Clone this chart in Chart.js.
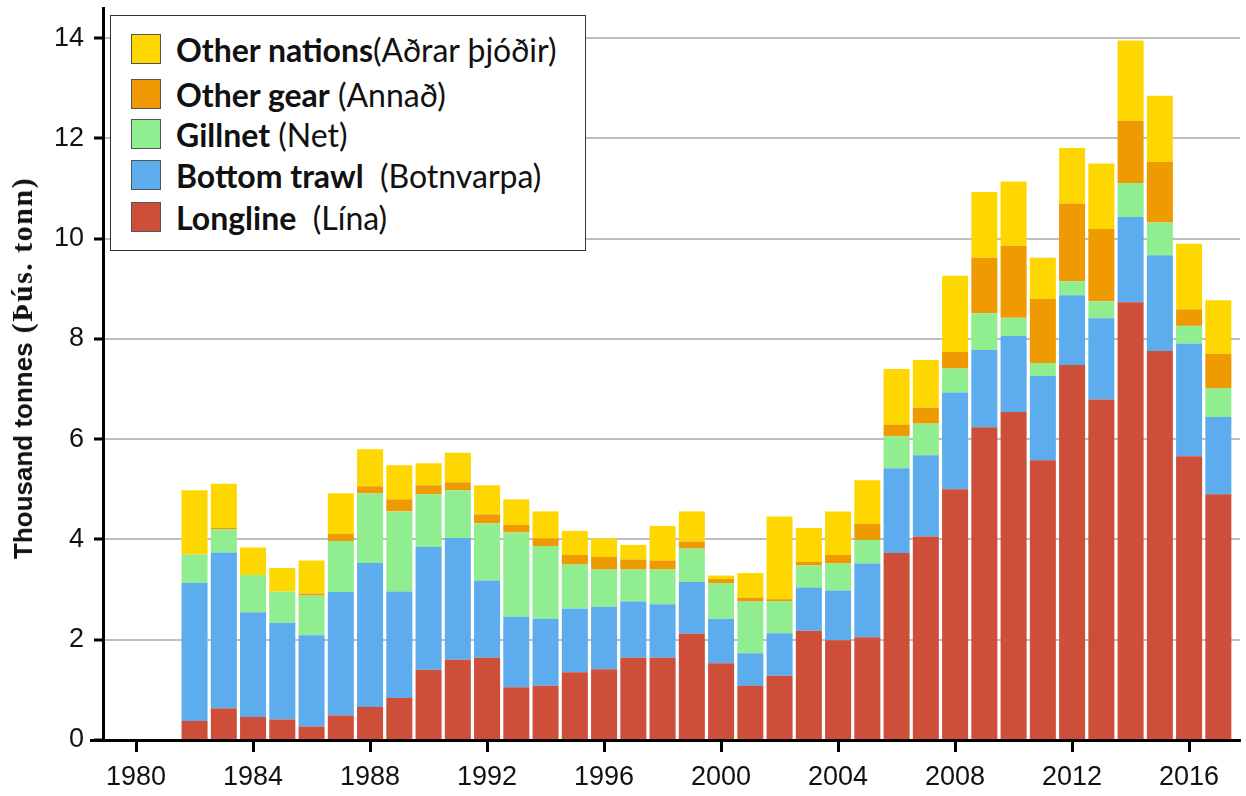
<!DOCTYPE html>
<html><head><meta charset="utf-8">
<script src="https://cdn.jsdelivr.net/npm/chart.js@4.4.1/dist/chart.umd.min.js"></script>
<style>
html,body{margin:0;padding:0;background:#fff;}
#wrap{position:relative;width:1246px;height:796px;overflow:hidden;}
#c{position:absolute;left:0;top:0;}
#legend{position:absolute;left:110px;top:15px;width:476px;height:236px;background:#fff;border:1.5px solid #333;box-sizing:border-box;font-family:Lato,'Open Sans',sans-serif;font-size:32px;color:#111;}
.row{position:absolute;left:20px;height:36px;display:flex;align-items:center;white-space:pre;}
.sw{width:30px;height:30px;border:1px solid #555;box-sizing:border-box;margin-right:15px;flex:none;}
.b{font-weight:bold;}
#ytitle{position:absolute;left:22px;top:368px;transform:translate(-50%,-50%) rotate(-90deg);white-space:nowrap;color:#111;}
#ytitle .s{font-family:'Liberation Sans',Arial,sans-serif;font-weight:bold;font-size:26px;}
#ytitle .t{font-family:'Liberation Serif','Times New Roman',serif;font-weight:bold;font-size:30px;letter-spacing:1.5px;}
</style>
</head><body>
<div id="wrap">
<canvas id="c" width="1246" height="796"></canvas>
<div id="ytitle"><span class="s">Thousand tonnes</span><span class="t"> (Þús. tonn)</span></div>
<div id="legend"></div>
</div>
<script>
const years = [1982,1983,1984,1985,1986,1987,1988,1989,1990,1991,1992,1993,1994,1995,1996,1997,1998,1999,2000,2001,2002,2003,2004,2005,2006,2007,2008,2009,2010,2011,2012,2013,2014,2015,2016,2017];
const longline     = [0.38,0.63,0.46,0.41,0.27,0.49,0.66,0.84,1.40,1.60,1.64,1.05,1.08,1.35,1.41,1.64,1.64,2.12,1.53,1.08,1.28,2.18,1.99,2.05,3.73,4.06,5.00,6.24,6.54,5.58,7.48,6.79,8.73,7.76,5.66,4.90];
const bottomTrawl  = [2.75,3.11,2.09,1.93,1.82,2.46,2.87,2.12,2.45,2.43,1.54,1.41,1.34,1.27,1.25,1.12,1.07,1.03,0.89,0.65,0.85,0.86,0.99,1.47,1.69,1.62,1.93,1.54,1.52,1.68,1.39,1.62,1.70,1.91,2.25,1.54];
const gillnet      = [0.57,0.46,0.74,0.62,0.79,1.02,1.39,1.60,1.05,0.95,1.14,1.68,1.45,0.88,0.74,0.64,0.69,0.67,0.71,1.03,0.64,0.44,0.54,0.47,0.64,0.63,0.48,0.73,0.36,0.26,0.28,0.34,0.68,0.65,0.35,0.58];
const otherGear    = [0.00,0.03,0.00,0.00,0.04,0.14,0.14,0.24,0.18,0.16,0.18,0.15,0.15,0.19,0.25,0.20,0.18,0.14,0.08,0.08,0.04,0.07,0.17,0.32,0.23,0.32,0.33,1.11,1.44,1.28,1.55,1.44,1.24,1.21,0.33,0.68];
const otherNations = [1.28,0.88,0.55,0.47,0.66,0.81,0.74,0.68,0.44,0.59,0.58,0.51,0.54,0.48,0.37,0.29,0.69,0.60,0.07,0.49,1.65,0.68,0.87,0.87,1.11,0.95,1.52,1.31,1.28,0.82,1.11,1.31,1.60,1.32,1.31,1.07];
const xTickYears = [1980,1984,1988,1992,1996,2000,2004,2008,2012,2016];
const yTickValues = [0,2,4,6,8,10,12,14];
const seriesNames = ['Longline','Bottom trawl','Gillnet','Other gear','Other nations'];
const seriesLocal = ['\u00a0\u00a0(Lína)','\u00a0\u00a0(Botnvarpa)','\u00a0(Net)','\u00a0(Annað)','(Aðrar þjóðir)'];
const seriesColors = ['#CD4F39','#5CACEE','#90EE90','#EE9A00','#FFD700'];
const seriesValues = [longline,bottomTrawl,gillnet,otherGear,otherNations];

const tickFont = {family:"'Liberation Sans', Arial, sans-serif", size:27};

const datasets = seriesValues.map((vals,i)=>({
  label: seriesNames[i] + ' ' + seriesLocal[i].trim(),
  data: years.map((y,j)=>({x:y, y:vals[j]})),
  backgroundColor: seriesColors[i],
  borderWidth: 0,
  barPercentage: 0.89,
  categoryPercentage: 1.0
}));

// extends the x-axis line slightly left of the y-axis, as in the original
const axisExtend = {
  id: 'axisExtend',
  afterDraw(c) {
    const ctx = c.ctx, a = c.chartArea;
    ctx.save();
    ctx.strokeStyle = '#000';
    ctx.lineWidth = 3;
    ctx.beginPath();
    ctx.moveTo(a.left - 13, a.bottom + 0.5);
    ctx.lineTo(a.left, a.bottom + 0.5);
    ctx.stroke();
    ctx.restore();
  }
};

const chart = new Chart(document.getElementById('c'), {
  type: 'bar',
  data: {datasets},
  plugins: [axisExtend],
  options: {
    responsive: false,
    animation: false,
    devicePixelRatio: 1,
    layout: {padding:{top:8,right:6,left:0,bottom:0}},
    plugins: {legend:{display:false}, tooltip:{enabled:false}},
    scales: {
      x: {
        type: 'linear',
        stacked: true,
        offset: false,
        min: 1978.87,
        max: 2017.74,
        afterBuildTicks: s => { s.ticks = xTickYears.map(v=>({value:v})); },
        afterFit: s => { s.height = 56; s.paddingLeft = 0; s.paddingRight = 0; },
        ticks: {callback: v => String(v), font: tickFont, color:'#111', padding:9, maxRotation:0, autoSkip:false},
        grid: {offset:false, drawOnChartArea:false, drawTicks:true, tickLength:12, tickWidth:3, tickColor:'#000'},
        border: {color:'#000', width:3}
      },
      y: {
        stacked: true,
        min: 0,
        max: 14.6,
        afterBuildTicks: s => { s.ticks = yTickValues.map(v=>({value:v})); },
        afterFit: s => { s.width = 103; s.paddingTop = 0; s.paddingBottom = 0; },
        ticks: {font: tickFont, color:'#111', padding:10},
        grid: {color:'#BEBEBE', lineWidth:2, tickLength:9, tickWidth:3, tickColor:'#000'},
        border: {color:'#000', width:3}
      }
    }
  }
});

// HTML legend built from the chart's datasets (top-most series first)
const lg = document.getElementById('legend');
const rowCenters = [33,78,118,159,201];
[4,3,2,1,0].forEach((i,k)=>{
  const row = document.createElement('div');
  row.className = 'row';
  row.style.top = (rowCenters[k]-18) + 'px';
  const sw = document.createElement('span');
  sw.className = 'sw';
  sw.style.background = chart.data.datasets[i].backgroundColor;
  const b = document.createElement('span'); b.className='b'; b.textContent = seriesNames[i];
  const n = document.createElement('span'); n.textContent = seriesLocal[i];
  row.appendChild(sw); row.appendChild(b); row.appendChild(n);
  lg.appendChild(row);
});
</script>
</body></html>
